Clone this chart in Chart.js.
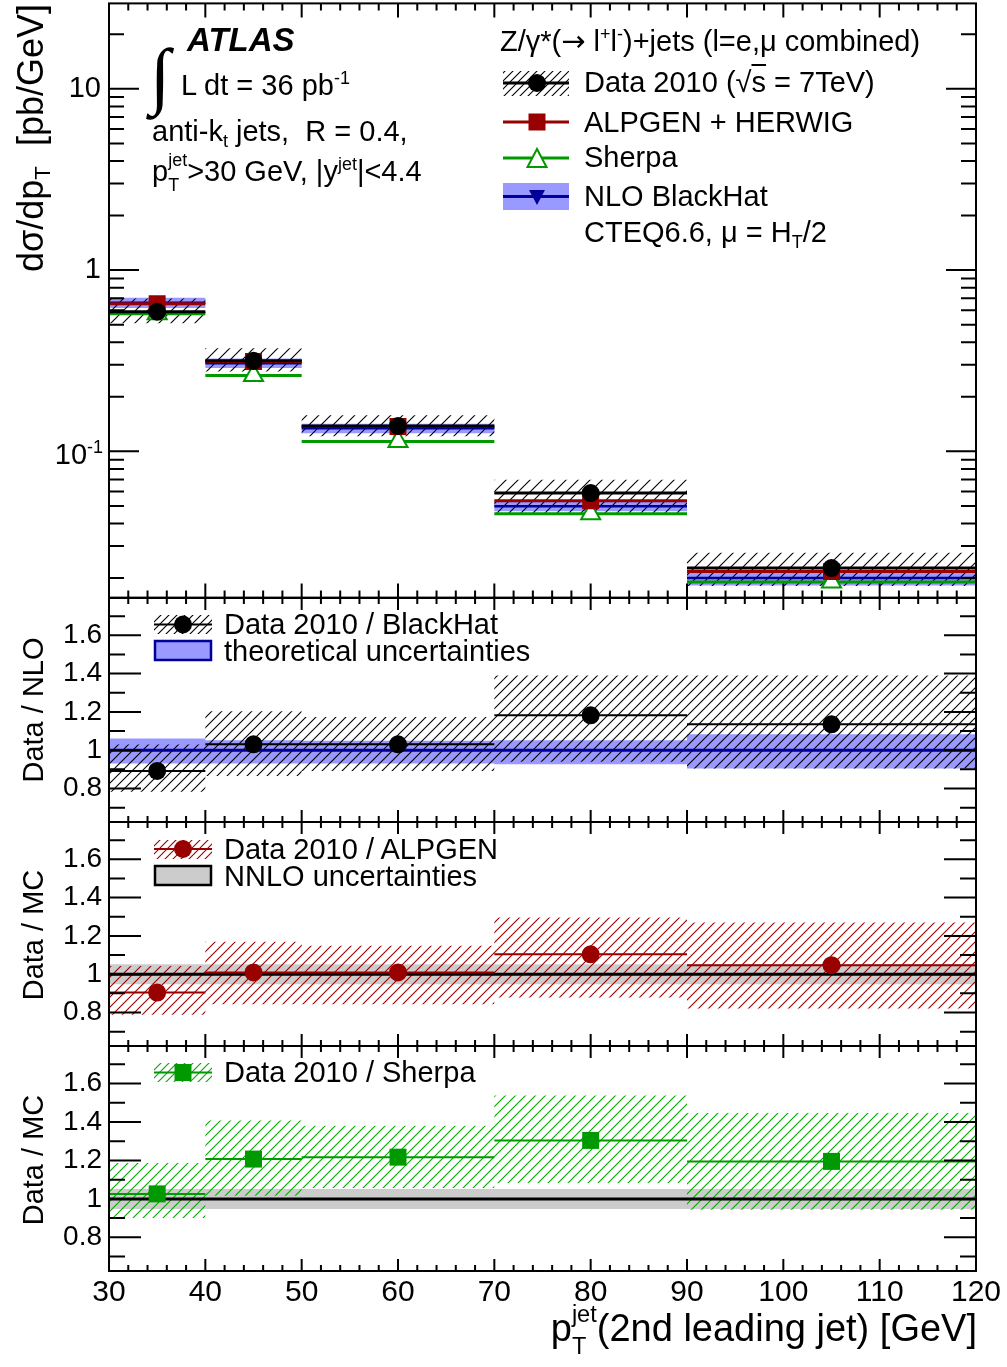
<!DOCTYPE html>
<html lang="en">
  <head>
    <meta charset="UTF-8" />
    <title>Z+jets 2nd leading jet pT</title>
    <script src="https://cdn.jsdelivr.net/npm/chart.js"></script>
    <style>
      body { margin: 0; background: #fff; }
      #page { position: relative; width: 1007px; height: 1367px; overflow: hidden; background: #fff;
              font-family: 'Liberation Sans', Arial, Helvetica, sans-serif; color: #000; }
      canvas { position: absolute; left: 0; }
      #sym { position: absolute; left: 0; top: 0; z-index: 4; }
      .t { position: absolute; white-space: nowrap; line-height: 1; font-size: 29px; z-index: 5; }
      .rot { transform-origin: 0 0; transform: rotate(-90deg); }
      .sp { position: relative; top: -0.6em; font-size: 0.62em; }
      .sb { position: relative; top: 0.3em; font-size: 0.62em; }
      .ss { position: relative; display: inline-block; font-size: 0.62em; line-height: 1; }
      .ss .u { position: relative; top: -0.8em; }
      .ss .d { position: absolute; left: 0; top: 0.55em; }
      .arr { font-family: 'DejaVu Sans', sans-serif; }
    </style>
  </head>
  <body>
    <div id="page">
      <canvas id="c1"></canvas>
      <canvas id="c2"></canvas>
      <canvas id="c3"></canvas>
      <canvas id="c4"></canvas>

      <!-- legend symbols -->
      <svg id="sym" width="1007" height="1367">
        <defs>
          <pattern id="hk" patternUnits="userSpaceOnUse" width="8" height="8">
            <path d="M0,8 L8,0 M-1,1 L1,-1 M7,9 L9,7" stroke="#000" stroke-width="1.1" />
          </pattern>
          <pattern id="hr" patternUnits="userSpaceOnUse" width="8" height="8">
            <path d="M0,8 L8,0 M-1,1 L1,-1 M7,9 L9,7" stroke="#990000" stroke-width="1.1" />
          </pattern>
          <pattern id="hg" patternUnits="userSpaceOnUse" width="8" height="8">
            <path d="M0,8 L8,0 M-1,1 L1,-1 M7,9 L9,7" stroke="#00aa00" stroke-width="1.1" />
          </pattern>
        </defs>
        <!-- top legend -->
        <rect x="503" y="71" width="66" height="25" fill="url(#hk)" />
        <line x1="503" x2="569" y1="83" y2="83" stroke="#000" stroke-width="3" />
        <circle cx="537" cy="83" r="9" fill="#000" />
        <line x1="503" x2="569" y1="122" y2="122" stroke="#990000" stroke-width="3" />
        <rect x="528.5" y="113.5" width="17" height="17" fill="#990000" />
        <line x1="503" x2="569" y1="158" y2="158" stroke="#009900" stroke-width="3" />
        <polygon points="537,149 527.5,167 546.5,167" fill="#fff" stroke="#009900" stroke-width="2" />
        <rect x="503" y="183" width="66" height="27" fill="#9999ff" />
        <line x1="503" x2="569" y1="196.5" y2="196.5" stroke="#000099" stroke-width="3" />
        <polygon points="529,190 545,190 537,205" fill="#000099" />
        <!-- NLO ratio legend -->
        <rect x="154" y="615" width="58" height="19" fill="url(#hk)" />
        <line x1="154" x2="212" y1="624.5" y2="624.5" stroke="#000" stroke-width="2" />
        <circle cx="183" cy="624.5" r="9" fill="#000" />
        <rect x="155" y="641" width="56" height="19" fill="#9999ff" stroke="#000099" stroke-width="2.5" />
        <!-- ALPGEN ratio legend -->
        <rect x="154" y="840" width="58" height="19" fill="url(#hr)" />
        <line x1="154" x2="212" y1="849" y2="849" stroke="#990000" stroke-width="2" />
        <circle cx="183" cy="849" r="9" fill="#990000" />
        <rect x="155" y="866" width="56" height="19" fill="#cccccc" stroke="#000" stroke-width="2.5" />
        <!-- Sherpa ratio legend -->
        <rect x="154" y="1063" width="58" height="19" fill="url(#hg)" />
        <line x1="154" x2="212" y1="1072.5" y2="1072.5" stroke="#009900" stroke-width="2" />
        <rect x="174.5" y="1064" width="17" height="17" fill="#009900" />
      </svg>

      <!-- annotations -->
      <div class="t" style="left:187px; top:22.8px; font-size:33px; font-weight:bold; font-style:italic;">ATLAS</div>
      <div class="t" style="left:150px; top:38px; font-size:74px; font-family:'Liberation Serif', 'DejaVu Serif', serif;">&#8747;</div>
      <div class="t" style="left:181px; top:70.8px;">L dt = 36 pb<span class="sp">-1</span></div>
      <div class="t" style="left:152px; top:117.3px;">anti-k<span class="sb">t</span> jets,&nbsp; R = 0.4,</div>
      <div class="t" style="left:152px; top:156.8px;">p<span class="ss"><span class="u">jet</span><span class="d">T</span></span>&gt;30 GeV, |y<span class="sp">jet</span>|&lt;4.4</div>

      <div class="t" style="left:500px; top:26.8px;">Z/&gamma;*(<span class="arr">&rarr;</span> l<span class="sp">+</span>l<span class="sp">-</span>)+jets (l=e,&mu; combined)</div>
      <div class="t" style="left:584px; top:68.3px;">Data 2010 (&radic;<span style="text-decoration:overline">s</span> = 7TeV)</div>
      <div class="t" style="left:584px; top:107.5px;">ALPGEN + HERWIG</div>
      <div class="t" style="left:584px; top:143.3px;">Sherpa</div>
      <div class="t" style="left:584px; top:181.8px;">NLO BlackHat</div>
      <div class="t" style="left:584px; top:218.3px;">CTEQ6.6, &mu; = H<span class="sb">T</span>/2</div>

      <div class="t" style="left:224px; top:609.8px;">Data 2010 / BlackHat</div>
      <div class="t" style="left:224px; top:636.8px;">theoretical uncertainties</div>
      <div class="t" style="left:224px; top:834.8px;">Data 2010 / ALPGEN</div>
      <div class="t" style="left:224px; top:861.8px;">NNLO uncertainties</div>
      <div class="t" style="left:224px; top:1057.8px;">Data 2010 / Sherpa</div>

      <!-- exponent tick label of the log axis -->
      <div class="t" style="right:904px; top:439.8px;">10<span class="sp">-1</span></div>

      <!-- axis titles -->
      <div class="t rot" style="left:12.5px; top:404px; width:400px; text-align:right; font-size:36px;">d&sigma;/dp<span class="sb">T</span>&nbsp; [pb/GeV]</div>
      <div class="t rot" style="left:18.8px; top:860px; width:300px; text-align:center;">Data / NLO</div>
      <div class="t rot" style="left:18.8px; top:1085px; width:300px; text-align:center;">Data / MC</div>
      <div class="t rot" style="left:18.8px; top:1310px; width:300px; text-align:center;">Data / MC</div>
      <div class="t" style="right:30px; top:1309px; font-size:38px;">p<span class="ss"><span class="u">jet</span><span class="d">T</span></span>(2nd leading jet) [GeV]</div>
    </div>

    <script>
      // bins of the 2nd leading jet pT [GeV]
      const edges = [30, 40, 50, 70, 90, 120];
      const centers = [35, 45, 60, 80, 105];

      // d sigma / d pT [pb/GeV]
      const data = [0.589, 0.316, 0.138, 0.0589, 0.0227];
      const dataLo = [0.509, 0.276, 0.121, 0.0447, 0.0181];
      const dataHi = [0.698, 0.37, 0.158, 0.0697, 0.0276];
      const alpgen = [0.652, 0.313, 0.137, 0.0534, 0.0217];
      const sherpa = [0.574, 0.262, 0.1134, 0.0452, 0.019];
      const nlo = [0.66, 0.3065, 0.134, 0.0498, 0.02];
      const nloLo = [0.617, 0.288, 0.126, 0.0467, 0.0182];
      const nloHi = [0.703, 0.325, 0.142, 0.053, 0.0217];

      // Data / NLO
      const rNlo = [0.892, 1.031, 1.031, 1.182, 1.135];
      const rNloLo = [0.783, 0.865, 0.892, 0.94, 0.905];
      const rNloHi = [1.03, 1.203, 1.173, 1.39, 1.39];
      const nloBandLo = [0.931, 0.931, 0.93, 0.927, 0.905];
      const nloBandHi = [1.061, 1.052, 1.05, 1.052, 1.083];

      // Data / ALPGEN
      const rAlp = [0.904, 1.009, 1.009, 1.104, 1.047];
      const rAlpLo = [0.788, 0.843, 0.843, 0.878, 0.821];
      const rAlpHi = [1.043, 1.17, 1.148, 1.296, 1.27];

      // Data / Sherpa
      const rShe = [1.026, 1.207, 1.217, 1.304, 1.195];
      const rSheLo = [0.9, 1.016, 1.056, 1.082, 0.943];
      const rSheHi = [1.186, 1.407, 1.38, 1.537, 1.447];

      // NNLO normalisation uncertainty
      const nnloLo = [0.948, 0.948, 0.948, 0.948, 0.948];
      const nnloHi = [1.052, 1.052, 1.052, 1.052, 1.052];
      const unity = 1;

      // tick labels
      const xLabels = [30, 40, 50, 60, 70, 80, 90, 100, 110, 120];
      const logLabels = [0.1, 1, 10];
      const ratioLabels = [0.8, 1, 1.2, 1.4, 1.6];

      const FONT = "'Liberation Sans', Arial, Helvetica, sans-serif";
      const W = 1007, LEFT = 109, RIGHT = 976, M = 25, XH = 45;

      function hatch(color, step, lw) {
        const c = document.createElement("canvas");
        c.width = c.height = step;
        const g = c.getContext("2d");
        g.strokeStyle = color;
        g.lineWidth = lw;
        g.beginPath();
        g.moveTo(0, step); g.lineTo(step, 0);
        g.moveTo(-1, 1); g.lineTo(1, -1);
        g.moveTo(step - 1, step + 1); g.lineTo(step + 1, step - 1);
        g.stroke();
        return g.createPattern(c, "repeat");
      }

      function segs(v) {
        const out = [];
        v.forEach((y, i) => {
          out.push({ x: edges[i], y }, { x: edges[i + 1], y }, { x: edges[i + 1], y: null });
        });
        return out;
      }
      function steps(v) {
        return edges.map((x, i) => ({ x, y: v[Math.min(i, v.length - 1)] }));
      }
      function pts(v) {
        return centers.map((x, i) => ({ x, y: v[i] }));
      }

      function band(list, lo, hi, fill, order) {
        const iHi = list.length;
        list.push({ data: steps(hi), stepped: true, borderColor: "rgba(0,0,0,0)", borderWidth: 0, pointRadius: 0, fill: false, order });
        list.push({ data: steps(lo), stepped: true, borderColor: "rgba(0,0,0,0)", borderWidth: 0, pointRadius: 0, fill: iHi, backgroundColor: fill, order });
      }
      function line(list, d, color, w, order) {
        list.push({ data: d, borderColor: color, borderWidth: w, pointRadius: 0, fill: false, spanGaps: false, order });
      }
      function marks(list, v, style, r, bg, border, bw, order, rot) {
        list.push({
          data: pts(v), showLine: false, pointStyle: style, pointRadius: r,
          pointBackgroundColor: bg, pointBorderColor: border, pointBorderWidth: bw,
          pointRotation: rot || 0, order,
        });
      }

      // ROOT-like frame with inward ticks on all four sides
      const framePlugin = {
        id: "frame",
        afterDraw(chart, args, o) {
          const { ctx, chartArea: a, scales } = chart;
          const x = scales.x, y = scales.y;
          ctx.save();
          ctx.strokeStyle = "#000";
          ctx.lineWidth = 2;
          ctx.beginPath();
          for (let v = 30; v <= 120; v += 2) {
            const px = x.getPixelForValue(v);
            const len = v % 10 === 0 ? o.xMaj : o.xMin;
            ctx.moveTo(px, a.bottom); ctx.lineTo(px, a.bottom - len);
            ctx.moveTo(px, a.top); ctx.lineTo(px, a.top + len);
          }
          o.yMajor.forEach((v) => {
            const py = y.getPixelForValue(v);
            ctx.moveTo(a.left, py); ctx.lineTo(a.left + o.yMaj, py);
            ctx.moveTo(a.right, py); ctx.lineTo(a.right - o.yMaj, py);
          });
          o.yMinor.forEach((v) => {
            const py = y.getPixelForValue(v);
            ctx.moveTo(a.left, py); ctx.lineTo(a.left + o.yMin, py);
            ctx.moveTo(a.right, py); ctx.lineTo(a.right - o.yMin, py);
          });
          ctx.stroke();
          ctx.strokeRect(a.left, a.top, a.right - a.left, a.bottom - a.top);
          ctx.restore();
        },
      };

      function makeChart(id, top, bottom, yScale, datasets, frame, xAxis) {
        const cv = document.getElementById(id);
        const extra = xAxis ? 60 : 0;
        const h = bottom - top + 2 * M + extra;
        cv.width = W; cv.height = h;
        cv.style.width = W + "px"; cv.style.height = h + "px";
        cv.style.top = top - M + "px";
        return new Chart(cv, {
          type: "line",
          data: { datasets },
          options: {
            responsive: false,
            animation: false,
            events: [],
            layout: { autoPadding: false, padding: { left: 0, right: W - RIGHT, top: M, bottom: xAxis ? M + extra - XH : M } },
            plugins: { legend: { display: false }, tooltip: { enabled: false }, frame },
            scales: {
              x: {
                type: "linear", min: 30, max: 120, display: !!xAxis,
                grid: { display: false, drawTicks: false }, border: { display: false },
                ticks: { font: { family: FONT, size: 30 }, color: "#000", padding: 4, maxRotation: 0, autoSkip: false },
                afterBuildTicks: (s) => { s.ticks = xLabels.map((v) => ({ value: v })); },
                afterFit: (s) => { s.height = xAxis ? XH : 0; },
              },
              y: yScale,
            },
          },
          plugins: [framePlugin],
        });
      }

      const xTicks = { xMaj: 14, xMin: 7 };
      const xTicksR = { xMaj: 12, xMin: 6 };
      const ratioMinor = [0.7, 0.9, 1.1, 1.3, 1.5, 1.7];

      function ratioAxis() {
        return {
          type: "linear", min: 0.625, max: 1.795,
          grid: { display: false, drawTicks: false }, border: { display: false },
          ticks: { font: { family: FONT, size: 28 }, color: "#000", padding: 7, callback: (v) => String(Math.round(v * 10) / 10) },
          afterBuildTicks: (s) => { s.ticks = ratioLabels.map((v) => ({ value: v })); },
          afterFit: (s) => { s.width = LEFT; },
        };
      }

      // ---- main panel ----
      const logMinor = [];
      [0.01, 0.1, 1, 10].forEach((d) => {
        for (let k = 2; k <= 9; k++) if (k * d > 0.0156 && k * d < 29.6) logMinor.push(k * d);
      });
      const d1 = [];
      band(d1, nloLo, nloHi, "#9999ff", 20);
      band(d1, dataLo, dataHi, hatch("#000", 12, 1.1), 19);
      line(d1, segs(nlo), "#000099", 2.5, 10);
      line(d1, segs(sherpa), "#009900", 3, 9);
      line(d1, segs(alpgen), "#990000", 3, 8);
      line(d1, segs(data), "#000", 3, 7);
      marks(d1, nlo, "triangle", 8, "#000099", "#000099", 1, 4, 180);
      marks(d1, sherpa, "triangle", 11, "#fff", "#009900", 2, 3);
      marks(d1, alpgen, "rect", 12, "#990000", "#990000", 0, 2);
      marks(d1, data, "circle", 9, "#000", "#000", 0, 1);
      makeChart("c1", 3, 598, {
        type: "logarithmic", min: 0.0156, max: 29.6,
        grid: { display: false, drawTicks: false }, border: { display: false },
        ticks: { font: { family: FONT, size: 29 }, color: "#000", padding: 8, callback: (v) => (v < 0.5 ? "" : String(v)) },
        afterBuildTicks: (s) => { s.ticks = logLabels.map((v) => ({ value: v })); },
        afterFit: (s) => { s.width = LEFT; },
      }, d1, Object.assign({ yMajor: logLabels, yMinor: logMinor, yMaj: 30, yMin: 15 }, xTicks), false);

      // ---- Data / NLO ----
      const d2 = [];
      band(d2, nloBandLo, nloBandHi, "#9999ff", 20);
      band(d2, rNloLo, rNloHi, hatch("#000", 10, 1.1), 19);
      line(d2, [{ x: 30, y: unity }, { x: 120, y: unity }], "#000099", 3, 10);
      line(d2, segs(rNlo), "#000", 2, 8);
      marks(d2, rNlo, "circle", 9, "#000", "#000", 0, 1);
      makeChart("c2", 598, 822, ratioAxis(), d2,
        Object.assign({ yMajor: ratioLabels, yMinor: ratioMinor, yMaj: 32, yMin: 16 }, xTicksR), false);

      // ---- Data / ALPGEN ----
      const d3 = [];
      band(d3, nnloLo, nnloHi, "#cccccc", 20);
      band(d3, rAlpLo, rAlpHi, hatch("#990000", 10, 1.1), 19);
      line(d3, [{ x: 30, y: unity }, { x: 120, y: unity }], "#000", 3, 10);
      line(d3, segs(rAlp), "#990000", 2, 8);
      marks(d3, rAlp, "circle", 9, "#990000", "#990000", 0, 1);
      makeChart("c3", 822, 1046, ratioAxis(), d3,
        Object.assign({ yMajor: ratioLabels, yMinor: ratioMinor, yMaj: 32, yMin: 16 }, xTicksR), false);

      // ---- Data / Sherpa ----
      const d4 = [];
      band(d4, nnloLo, nnloHi, "#cccccc", 20);
      band(d4, rSheLo, rSheHi, hatch("#00aa00", 10, 1.1), 19);
      line(d4, [{ x: 30, y: unity }, { x: 120, y: unity }], "#000", 3, 10);
      line(d4, segs(rShe), "#009900", 2, 8);
      marks(d4, rShe, "rect", 12, "#009900", "#009900", 0, 1);
      makeChart("c4", 1046, 1271, ratioAxis(), d4,
        Object.assign({ yMajor: ratioLabels, yMinor: ratioMinor, yMaj: 32, yMin: 16 }, xTicksR), true);
    </script>
  </body>
</html>
